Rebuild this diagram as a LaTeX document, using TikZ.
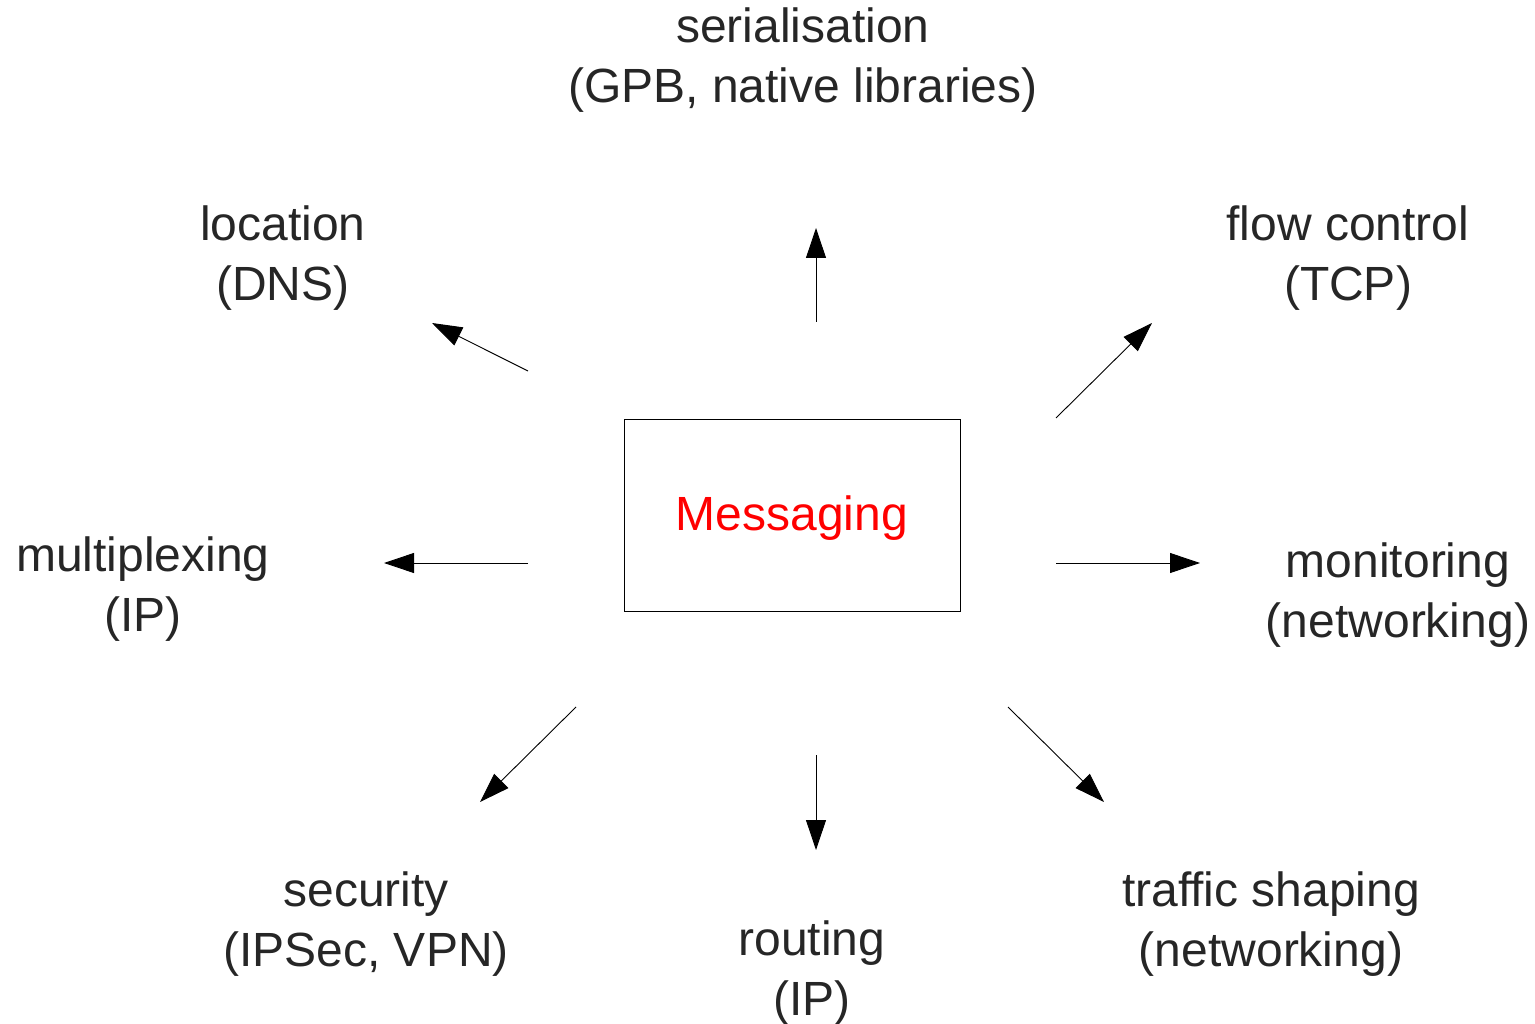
\documentclass[tikz,border=0pt]{standalone}
\usepackage{fontspec}
\setmainfont{Liberation Sans}
\usetikzlibrary{arrows.meta}
\begin{document}
\begin{tikzpicture}[x=1pt,y=-1pt,
  lbl/.style={align=center,inner sep=0pt,font=\fontsize{48}{60}\selectfont,text=black!85},
  ray/.style={line width=0.9pt,-{Triangle[length=30pt,width=20pt]}},
  core/.style={draw,line width=0.9pt,minimum width=336pt,minimum height=192pt,inner sep=0pt,
               font=\fontsize{48}{60}\selectfont,text=red}]
\useasboundingbox (0,0) rectangle (1535,1024);

% central box
\node[core] (msg) at (792,515) {};
\node[font=\fontsize{48}{60}\selectfont,text=red,inner sep=0pt] (msgtxt) at (792,518) {Messaging};

% surrounding labels
\node[lbl] (ser) at (803,60)   {serialisation\\(GPB, native libraries)};
\node[lbl] (loc) at (283,258)  {location\\(DNS)};
\node[lbl] (flow) at (1348,258) {flow control\\(TCP)};
\node[lbl] (mux) at (143,589)  {multiplexing\\(IP)};
\node[lbl] (mon) at (1398,595) {monitoring\\(networking)};
\node[lbl] (sec) at (366,924)  {security\\(IPSec, VPN)};
\node[lbl] (rte) at (812,973)  {routing\\(IP)};
\node[lbl] (trf) at (1271,924) {traffic shaping\\(networking)};

% arrow end points
\coordinate (serA) at (816,322);  \coordinate (serB) at (816,228);
\coordinate (locA) at (528,371);  \coordinate (locB) at (432,323);
\coordinate (flowA) at (1056,418); \coordinate (flowB) at (1152,323);
\coordinate (muxA) at (528,563);  \coordinate (muxB) at (384,563);
\coordinate (monA) at (1056,563); \coordinate (monB) at (1200,563);
\coordinate (secA) at (576,707);  \coordinate (secB) at (480,802);
\coordinate (rteA) at (816,755);  \coordinate (rteB) at (816,850);
\coordinate (trfA) at (1008,707); \coordinate (trfB) at (1104,802);

% arrows
\draw[ray] (serA) -- (serB);
\draw[ray] (locA) -- (locB);
\draw[ray] (flowA) -- (flowB);
\draw[ray] (muxA) -- (muxB);
\draw[ray] (monA) -- (monB);
\draw[ray] (secA) -- (secB);
\draw[ray] (rteA) -- (rteB);
\draw[ray] (trfA) -- (trfB);
\end{tikzpicture}
\end{document}
